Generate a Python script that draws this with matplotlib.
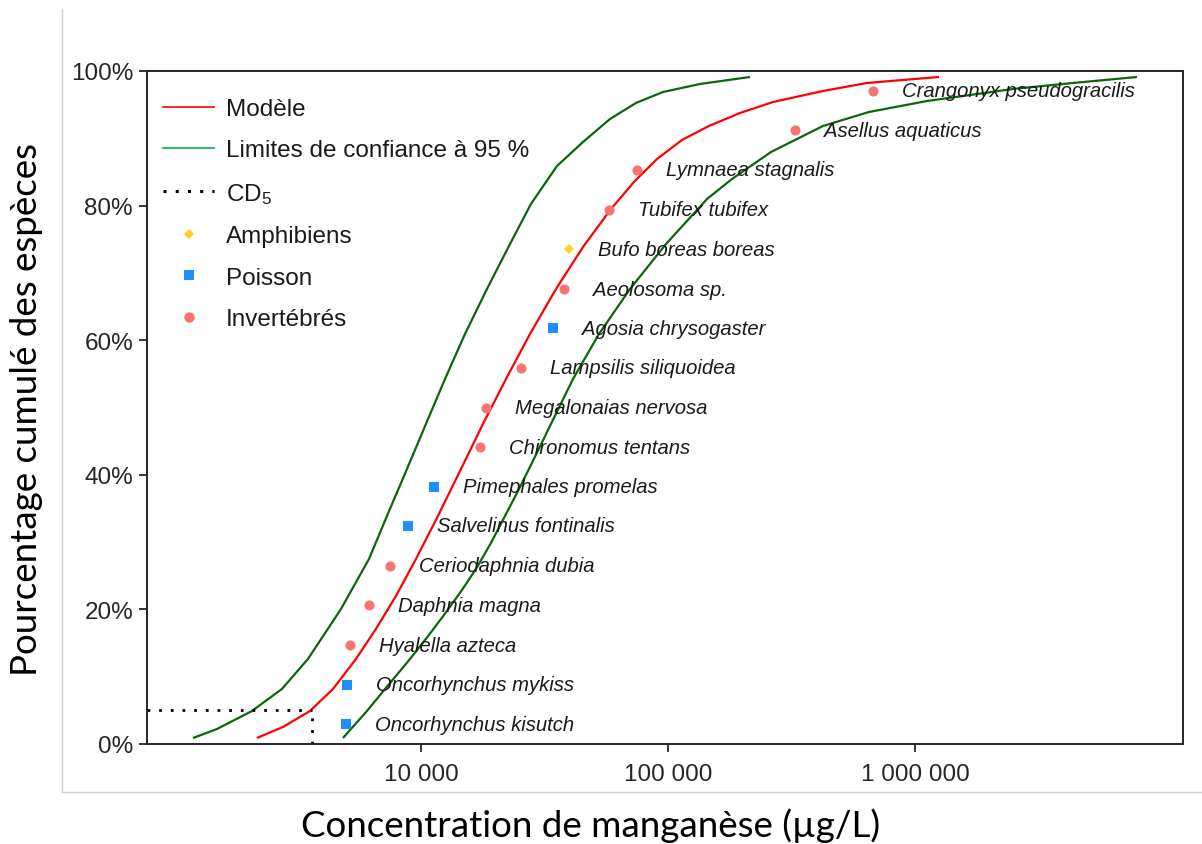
import matplotlib
matplotlib.use("Agg")
import matplotlib.pyplot as plt
from matplotlib.lines import Line2D
from matplotlib.ticker import FixedLocator, FixedFormatter, NullLocator

plt.rcParams['font.family'] = ['Liberation Sans', 'DejaVu Sans']
plt.rcParams['mathtext.default'] = 'regular'

# ---- data ----
species = ["Oncorhynchus kisutch", "Oncorhynchus mykiss", "Hyalella azteca", "Daphnia magna",
           "Ceriodaphnia dubia", "Salvelinus fontinalis", "Pimephales promelas", "Chironomus tentans",
           "Megalonaias nervosa", "Lampsilis siliquoidea", "Agosia chrysogaster", "Aeolosoma sp.",
           "Bufo boreas boreas", "Tubifex tubifex", "Lymnaea stagnalis", "Asellus aquaticus",
           "Crangonyx pseudogracilis"]
groups = ["Poisson", "Poisson", "Invertébrés", "Invertébrés", "Invertébrés", "Poisson", "Poisson",
          "Invertébrés", "Invertébrés", "Invertébrés", "Poisson", "Invertébrés", "Amphibiens",
          "Invertébrés", "Invertébrés", "Invertébrés", "Invertébrés"]
conc = [4980, 5030, 5170, 6150, 7490, 8860, 11300, 17300, 18300, 25400, 34200, 37900, 39700,
        57700, 74800, 327000, 676000]
pct = [2.9, 8.8, 14.7, 20.6, 26.5, 32.4, 38.2, 44.1, 50.0, 55.9, 61.8, 67.6, 73.5, 79.4, 85.3,
       91.2, 97.1]

model_x = [2168, 2763, 3553, 4403, 5456, 6573, 7922, 9546, 11718, 14520, 17822, 22090, 27630,
           35210, 45290, 58780, 72830, 90250, 113950, 146550, 195650, 266100, 424200, 639300,
           1251000]
model_y = [0.89, 2.53, 4.90, 8.17, 12.63, 17.09, 21.99, 27.49, 33.88, 40.86, 47.55, 54.23, 60.92,
           67.61, 73.85, 79.49, 83.51, 86.92, 89.75, 91.83, 93.76, 95.39, 97.03, 98.22, 99.11]

lower_x = [1194, 1494, 2069, 2736, 3487, 4745, 6160, 7283, 8776, 10477, 12511, 15075, 18503,
           22930, 27872, 35530, 45290, 58240, 74200, 95450, 134800, 214800]
lower_y = [0.89, 2.23, 4.90, 8.17, 12.63, 20.06, 27.49, 33.88, 40.86, 47.55, 54.23, 60.92, 67.61,
           74.29, 80.24, 85.88, 89.45, 92.87, 95.25, 96.88, 98.07, 99.11]

upper_x = [4833, 6045, 7151, 9028, 10777, 12741, 14656, 16700, 19205, 21884, 24476, 27362, 33596,
           41250, 52560, 70190, 98150, 143900, 181600, 261200, 424200, 651300, 1118600, 2493000,
           4362000, 7920000]
upper_y = [0.89, 4.90, 8.17, 12.63, 16.20, 19.76, 22.88, 26.00, 29.87, 33.88, 37.30, 40.86, 47.55,
           54.23, 60.92, 67.61, 74.29, 80.98, 83.95, 87.96, 91.83, 93.91, 95.54, 97.33, 98.22,
           99.11]

cd5 = 3620
cd5_pct = 5

xticks = [1e4, 1e5, 1e6]
xticklabels = ["10 000", "100 000", "1 000 000"]
yticks = [0, 20, 40, 60, 80, 100]
yticklabels = ["0%", "20%", "40%", "60%", "80%", "100%"]

group_style = {
    "Amphibiens": dict(marker="D", color="#FFD21F", ms=5.5),
    "Poisson": dict(marker="s", color="#1E8EFF", ms=7.5),
    "Invertébrés": dict(marker="o", color="#F87474", ms=7.3),
}

# ---- figure ----
fig = plt.figure(figsize=(12.02, 8.45), dpi=100)
ax = fig.add_axes([147 / 1202, 100 / 845, 1036 / 1202, 673 / 845])

ax.set_xscale("log")
ax.set_xlim(778, 1.216e7)
ax.set_ylim(0, 100)

line_kw = dict(lw=1.6, solid_capstyle="butt", solid_joinstyle="round")
ax.plot(lower_x, lower_y, color="#0B660B", **line_kw)
ax.plot(upper_x, upper_y, color="#0B660B", **line_kw)
ax.plot(model_x, model_y, color="#FF0000", **line_kw)

# CD5 dotted guides
ax.plot([ax.get_xlim()[0], cd5], [cd5_pct, cd5_pct], color="black", lw=2,
        linestyle=(0, (1, 3.2)))
ax.plot([cd5, cd5], [0, cd5_pct], color="black", lw=2, linestyle=(0, (1, 3.2)))

for g in ["Amphibiens", "Poisson", "Invertébrés"]:
    xs = [c for c, gg in zip(conc, groups) if gg == g]
    ys = [p for p, gg in zip(pct, groups) if gg == g]
    st = group_style[g]
    ax.plot(xs, ys, linestyle="none", marker=st["marker"], color=st["color"],
            markersize=st["ms"], markeredgewidth=0, zorder=4)

for name, c, p in zip(species, conc, pct):
    ax.annotate(name, (c, p), xytext=(21, 0), textcoords="offset points", va="center",
                ha="left", style="italic", fontsize=14.6, color="#1a1a1a")

ax.xaxis.set_major_locator(FixedLocator(xticks))
ax.xaxis.set_major_formatter(FixedFormatter(xticklabels))
ax.xaxis.set_minor_locator(NullLocator())
ax.yaxis.set_major_locator(FixedLocator(yticks))
ax.yaxis.set_major_formatter(FixedFormatter(yticklabels))

ax.tick_params(axis="both", which="major", length=6, width=1.3, labelsize=17.5,
               colors="#262626", pad=4)
ax.tick_params(axis="x", pad=7.5)
for s in ax.spines.values():
    s.set_linewidth(1.4)
    s.set_color("#262626")

# legend
handles = [
    Line2D([], [], color="#FF0000", lw=1.2),
    Line2D([], [], color="#00B050", lw=1.2),
    Line2D([], [], color="black", lw=2.2, linestyle=(0, (1, 3))),
    Line2D([], [], linestyle="none", marker="D", color="#FFD21F", markersize=5, markeredgewidth=0),
    Line2D([], [], linestyle="none", marker="s", color="#1E8EFF", markersize=7, markeredgewidth=0),
    Line2D([], [], linestyle="none", marker="o", color="#F87474", markersize=7.5, markeredgewidth=0),
]
labels = ["Modèle", "Limites de confiance à 95 %", r"$\mathregular{CD_5}$", "Amphibiens",
          "Poisson", "Invertébrés"]
leg = ax.legend(handles, labels, loc="upper left", bbox_to_anchor=(16 / 1036, 1 - 27 / 673),
                frameon=False, fontsize=17.5, handlelength=2.1, handletextpad=0.5,
                labelspacing=0.8, borderpad=0, borderaxespad=0)
for t in leg.get_texts():
    t.set_color("#1a1a1a")

# axis titles
fig.text(27 / 1202, 1 - 410 / 845, "Pourcentage cumulé des espèces", rotation=90,
         ha="center", va="center", fontsize=26.5, family=["Lato", "DejaVu Sans"], color="black")
fig.text(591 / 1202, 1 - 826 / 845, "Concentration de manganèse (µg/L)", ha="center",
         va="center", fontsize=26.5, family=["Lato", "DejaVu Sans"], color="black")

# light gray frame lines
fig.add_artist(Line2D([62 / 1202, 62 / 1202], [1 - 10 / 845, 1 - 793 / 845],
                      transform=fig.transFigure, color="#d0d0d0", lw=1))
fig.add_artist(Line2D([62 / 1202, 1.0], [1 - 793 / 845, 1 - 793 / 845],
                      transform=fig.transFigure, color="#d0d0d0", lw=1))

fig.savefig("out.png", dpi=100, facecolor="white")
